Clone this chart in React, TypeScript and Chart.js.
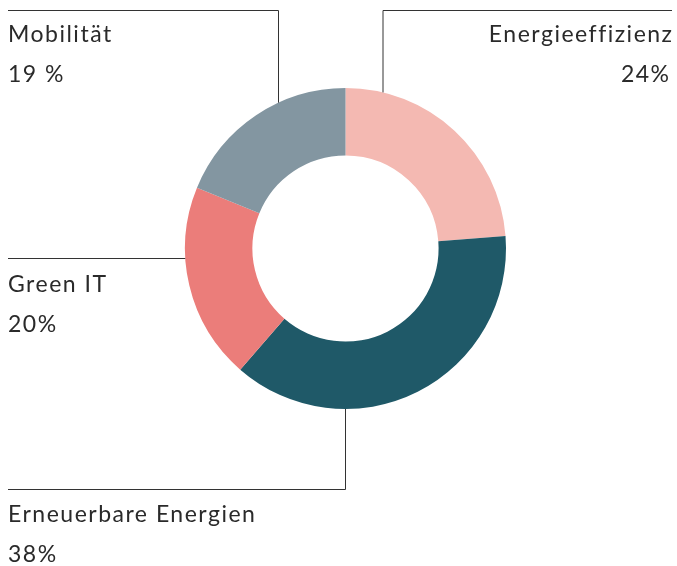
import React, { useEffect, useRef } from "react";
import { Chart, registerables } from "chart.js";

Chart.register(...registerables);

const categories = ["Energieeffizienz", "Erneuerbare Energien", "Green IT", "Mobilität"];
const values = [24, 38, 20, 19];
const valueLabels = ["24%", "38%", "20%", "19 %"];
const colors = ["#f4b9b2", "#1f5968", "#eb7d7a", "#8396a1"];

const FONT = "23px Lato, 'Open Sans', sans-serif";
const INK = "#2a2a2a";

const labelPlugin = {
  id: "leaderLabels",
  afterDraw(chart: any) {
    const ctx = chart.ctx;
    const arc = chart.getDatasetMeta(0).data[0];
    if (!arc) return;
    const cx = arc.x;
    const cy = arc.y;
    const R = arc.outerRadius;
    const W = chart.width;
    const left = 8;
    const right = W - 5;
    const topY = 10.5;
    ctx.save();
    ctx.strokeStyle = "#333";
    ctx.lineWidth = 1;
    ctx.fillStyle = INK;
    ctx.font = FONT;
    (ctx as any).letterSpacing = "1.5px";
    ctx.textBaseline = "alphabetic";

    const vyTop = (x: number) => cy - Math.sqrt(R * R - (x - cx) * (x - cx));
    const hxLeft = (y: number) => cx - Math.sqrt(R * R - (y - cy) * (y - cy));

    // Energieeffizienz (top right)
    const ex = cx + 37.5;
    ctx.beginPath();
    ctx.moveTo(ex, vyTop(ex));
    ctx.lineTo(ex, topY);
    ctx.lineTo(right, topY);
    ctx.stroke();
    ctx.textAlign = "right";
    ctx.fillText(categories[0], right + 1.5, 42);
    ctx.fillText(valueLabels[0], right - 1.5, 82);

    // Mobilität (top left)
    const mx = cx - 67;
    ctx.beginPath();
    ctx.moveTo(mx, vyTop(mx));
    ctx.lineTo(mx, topY);
    ctx.lineTo(left, topY);
    ctx.stroke();
    ctx.textAlign = "left";
    ctx.fillText(categories[3], left, 42);
    ctx.fillText(valueLabels[3], left, 82);

    // Green IT (left)
    const gy = cy + 10;
    ctx.beginPath();
    ctx.moveTo(hxLeft(gy), gy);
    ctx.lineTo(left, gy);
    ctx.stroke();
    ctx.fillText(categories[2], left, 292);
    ctx.fillText(valueLabels[2], left, 332);

    // Erneuerbare Energien (bottom)
    const bx = Math.round(cx) - 0.5;
    const by = 489.5;
    ctx.beginPath();
    ctx.moveTo(bx, cy + R);
    ctx.lineTo(bx, by);
    ctx.lineTo(left, by);
    ctx.stroke();
    ctx.fillText(categories[1], left, 522);
    ctx.fillText(valueLabels[1], left, 562);
    ctx.restore();
  },
};

export default function App() {
  const ref = useRef<HTMLCanvasElement | null>(null);
  useEffect(() => {
    if (!ref.current) return;
    const chart = new Chart(ref.current, {
      type: "doughnut",
      data: {
        labels: categories,
        datasets: [
          {
            data: values,
            backgroundColor: colors,
            borderWidth: 0,
          },
        ],
      },
      options: {
        responsive: false,
        animation: false,
        cutout: "58%",
        layout: { padding: { left: 185, right: 171, top: 88, bottom: 157 } },
        plugins: {
          legend: { display: false },
          tooltip: { enabled: false },
        },
      },
      plugins: [labelPlugin],
    });
    return () => chart.destroy();
  }, []);
  return (
    <div style={{ position: "absolute", left: 0, top: 0, width: 677, height: 566, background: "#fff" }}>
      <canvas ref={ref} width={677} height={566} style={{ width: 677, height: 566 }} />
    </div>
  );
}
